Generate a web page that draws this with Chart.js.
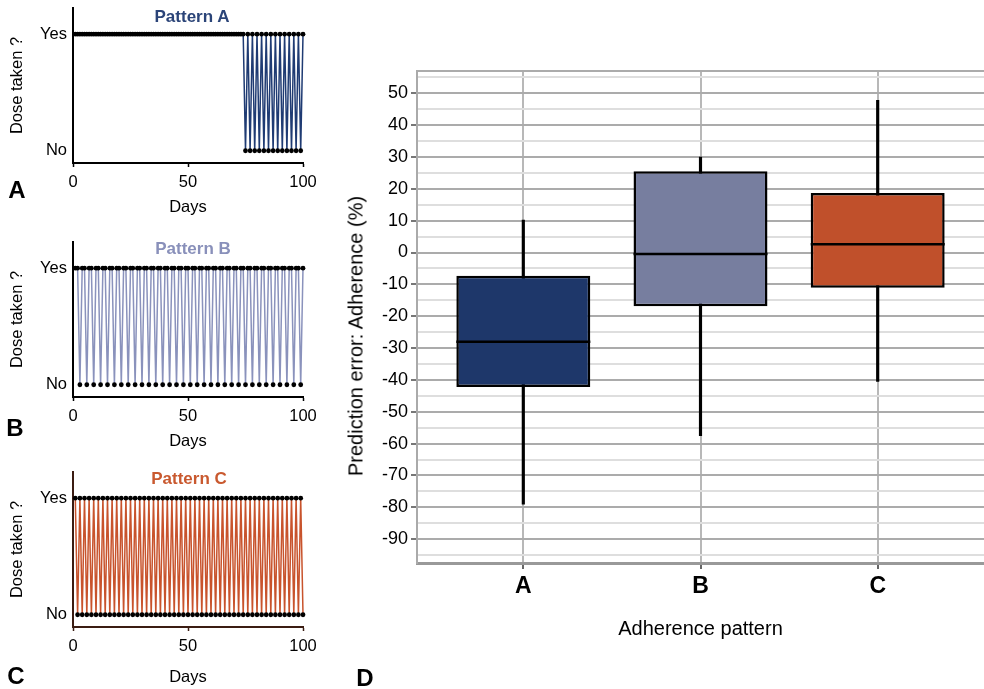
<!DOCTYPE html>
<html>
<head>
<meta charset="utf-8">
<script src="https://cdn.jsdelivr.net/npm/chart.js@4.4.1/dist/chart.umd.min.js"></script>
<style>
  body { margin: 0; background: #fff; }
  #wrap { position: relative; width: 984px; height: 689px; overflow: hidden; font-family: 'Liberation Sans', Arial, sans-serif; }
  canvas { position: absolute; }
  .lbl { position: absolute; white-space: nowrap; transform: translate(-50%, -50%); color: #000; }
  .letter { font-size: 24px; font-weight: bold; }
  .ptitle { font-size: 17px; font-weight: bold; }
  .ytitle { font-size: 20px; transform: translate(-50%, -50%) rotate(-90deg); }
</style>
</head>
<body>
<div id="wrap">
  <canvas id="cA" width="330" height="238" style="left:0;top:-8px"></canvas>
  <canvas id="cB" width="330" height="238" style="left:0;top:226px"></canvas>
  <canvas id="cC" width="330" height="238" style="left:0;top:456px"></canvas>
  <canvas id="cD" width="654" height="620" style="left:330px;top:40px"></canvas>

  <div class="lbl ptitle" style="left:192px;top:17px;color:#2b4478">Pattern A</div>
  <div class="lbl ptitle" style="left:193px;top:249px;color:#8990ba">Pattern B</div>
  <div class="lbl ptitle" style="left:189px;top:479px;color:#c9592f">Pattern C</div>

  <div class="lbl letter" style="left:17px;top:190px">A</div>
  <div class="lbl letter" style="left:15px;top:428px">B</div>
  <div class="lbl letter" style="left:16px;top:676px">C</div>
  <div class="lbl letter" style="left:365px;top:678px">D</div>

  <div class="lbl ytitle" style="left:356px;top:336px">Prediction error: Adherence (%)</div>
</div>
<script>
Chart.defaults.font.family = "'Liberation Sans', Arial, sans-serif";
Chart.defaults.color = '#000';

// days 1..100
const days = [
  1, 2, 3, 4, 5, 6, 7, 8, 9, 10,
  11, 12, 13, 14, 15, 16, 17, 18, 19, 20,
  21, 22, 23, 24, 25, 26, 27, 28, 29, 30,
  31, 32, 33, 34, 35, 36, 37, 38, 39, 40,
  41, 42, 43, 44, 45, 46, 47, 48, 49, 50,
  51, 52, 53, 54, 55, 56, 57, 58, 59, 60,
  61, 62, 63, 64, 65, 66, 67, 68, 69, 70,
  71, 72, 73, 74, 75, 76, 77, 78, 79, 80,
  81, 82, 83, 84, 85, 86, 87, 88, 89, 90,
  91, 92, 93, 94, 95, 96, 97, 98, 99, 100
];

// 1 = dose taken, 0 = missed
const patternA = [
  1,1,1,1,1,1,1,1,1,1,
  1,1,1,1,1,1,1,1,1,1,
  1,1,1,1,1,1,1,1,1,1,
  1,1,1,1,1,1,1,1,1,1,
  1,1,1,1,1,1,1,1,1,1,
  1,1,1,1,1,1,1,1,1,1,
  1,1,1,1,1,1,1,1,1,1,
  1,1,1,1,0,1,0,1,0,1,
  0,1,0,1,0,1,0,1,0,1,
  0,1,0,1,0,1,0,1,0,1
];
const patternB = [
  1,1,0,1,1,0,1,1,0,1,
  1,0,1,1,0,1,1,0,1,1,
  0,1,1,0,1,1,0,1,1,0,
  1,1,0,1,1,0,1,1,0,1,
  1,0,1,1,0,1,1,0,1,1,
  0,1,1,0,1,1,0,1,1,0,
  1,1,0,1,1,0,1,1,0,1,
  1,0,1,1,0,1,1,0,1,1,
  0,1,1,0,1,1,0,1,1,0,
  1,1,0,1,1,0,1,1,0,1
];
const patternC = [
  1,0,1,0,1,0,1,0,1,0,
  1,0,1,0,1,0,1,0,1,0,
  1,0,1,0,1,0,1,0,1,0,
  1,0,1,0,1,0,1,0,1,0,
  1,0,1,0,1,0,1,0,1,0,
  1,0,1,0,1,0,1,0,1,0,
  1,0,1,0,1,0,1,0,1,0,
  1,0,1,0,1,0,1,0,1,0,
  1,0,1,0,1,0,1,0,1,0,
  1,0,1,0,1,0,1,0,1,0
];
const doseTicks = ['No', 'Yes'];
const dayTicks = [0, 50, 100];

// box plot (panel D)
const groups = ['A', 'B', 'C'];
const whiskerLow = [-79, -57.5, -40.5];
const whiskerHigh = [10.2, 30, 47.8];
const q1 = [-42.2, -16.9, -11.1];
const q3 = [-7.3, 25.5, 18.7];
const medians = [-28, -0.5, 2.6];
const errTicks = [-95, -90, -85, -80, -75, -70, -65, -60, -55, -50, -45, -40, -35, -30, -25, -20,
  -15, -10, -5, 0, 5, 10, 15, 20, 25, 30, 35, 40, 45, 50, 55];

const boxColors = ['#1e376a', '#777e9f', '#c0502b'];

function doseChart(id, values, lineColor, axisColor, daysPad) {
  new Chart(document.getElementById(id), {
    type: 'line',
    data: {
      labels: days,
      datasets: [{
        data: values,
        borderColor: lineColor,
        borderWidth: 1.5,
        tension: 0,
        pointRadius: 2.4,
        pointBackgroundColor: '#000',
        pointBorderWidth: 0,
        clip: 5
      }]
    },
    options: {
      responsive: false,
      animation: false,
      layout: { autoPadding: false, padding: { top: 16, right: 27, left: 0, bottom: 0 } },
      plugins: { legend: { display: false }, tooltip: { enabled: false } },
      scales: {
        x: {
          type: 'linear', min: 0, max: 100,
          afterBuildTicks: s => { s.ticks = dayTicks.map(v => ({ value: v })); },
          afterFit: s => { s.height = 67; },
          grid: { drawOnChartArea: false, drawTicks: true, tickLength: 4, tickColor: axisColor, tickWidth: 1.5 },
          border: { color: axisColor, width: 2 },
          ticks: { font: { size: 16.5 }, padding: 6, maxRotation: 0 },
          title: { display: true, text: 'Days', font: { size: 16.5 }, padding: { top: 0, bottom: daysPad } }
        },
        y: {
          min: -0.105, max: 1.225,
          afterBuildTicks: s => { s.ticks = doseTicks.map((t, i) => ({ value: i })); },
          afterFit: s => { s.width = 73; },
          grid: { drawOnChartArea: false, drawTicks: false },
          border: { color: axisColor, width: 2 },
          ticks: { font: { size: 16.5 }, padding: 6, callback: v => doseTicks[v] },
          title: { display: true, text: 'Dose taken ?', font: { size: 16.5 }, padding: { top: 8, bottom: 0 } }
        }
      }
    }
  });
}

doseChart('cA', patternA, '#1f3b73', '#000', 13);
doseChart('cB', patternB, '#8a92bc', '#000', 13);
doseChart('cC', patternC, '#c8532c', '#3b1c12', 7);

new Chart(document.getElementById('cD'), {
  type: 'bar',
  data: {
    datasets: [
      {
        type: 'scatter',
        data: groups.map((g, i) => ({ x: i, y: medians[i] })),
        pointStyle: 'line',
        pointRadius: 67,
        pointHoverRadius: 67,
        pointBorderColor: '#000',
        pointBorderWidth: 2.5,
        order: 1
      },
      {
        data: groups.map((g, i) => ({ x: i, y: [q1[i], q3[i]] })),
        backgroundColor: boxColors,
        borderColor: '#000',
        borderWidth: 2.5,
        borderSkipped: false,
        grouped: false,
        barPercentage: 0.756,
        categoryPercentage: 1,
        order: 2
      },
      {
        data: groups.map((g, i) => ({ x: i, y: [whiskerLow[i], whiskerHigh[i]] })),
        backgroundColor: '#000',
        barThickness: 2.5,
        grouped: false,
        order: 3
      }
    ]
  },
  options: {
    responsive: false,
    animation: false,
    layout: { autoPadding: false, padding: { top: 31, right: 0, left: 0, bottom: 0 } },
    plugins: { legend: { display: false }, tooltip: { enabled: false } },
    scales: {
      x: {
        type: 'linear', min: -0.6, max: 2.6, offset: false,
        afterBuildTicks: s => { s.ticks = groups.map((g, i) => ({ value: i })); },
        afterFit: s => { s.height = 97; },
        grid: { offset: false, color: '#b8b8b8', lineWidth: 2, tickLength: 6, tickColor: '#666' },
        border: { color: '#999', width: 3 },
        ticks: { font: { size: 23, weight: 'bold' }, padding: 4, callback: v => groups[v] },
        title: { display: true, text: 'Adherence pattern', font: { size: 20 }, padding: { top: 0, bottom: 19 } }
      },
      y: {
        min: -97.5, max: 57,
        afterBuildTicks: s => { s.ticks = [s.min, ...errTicks, s.max].map(v => ({ value: v })); },
        afterFit: s => { s.width = 87; },
        grid: {
          lineWidth: 2,
          tickLength: 6,
          color: c => (c.tick.value % 10 === 0 || !errTicks.includes(c.tick.value)) ? '#ababab' : '#dedede',
          tickColor: c => c.tick.value % 10 === 0 ? '#777' : 'rgba(0,0,0,0)'
        },
        border: { color: '#aaa', width: 2 },
        ticks: { autoSkip: false, font: { size: 18 }, padding: 3, callback: v => (v % 10 === 0 ? String(v) : '') }
      }
    }
  }
});
</script>
</body>
</html>
